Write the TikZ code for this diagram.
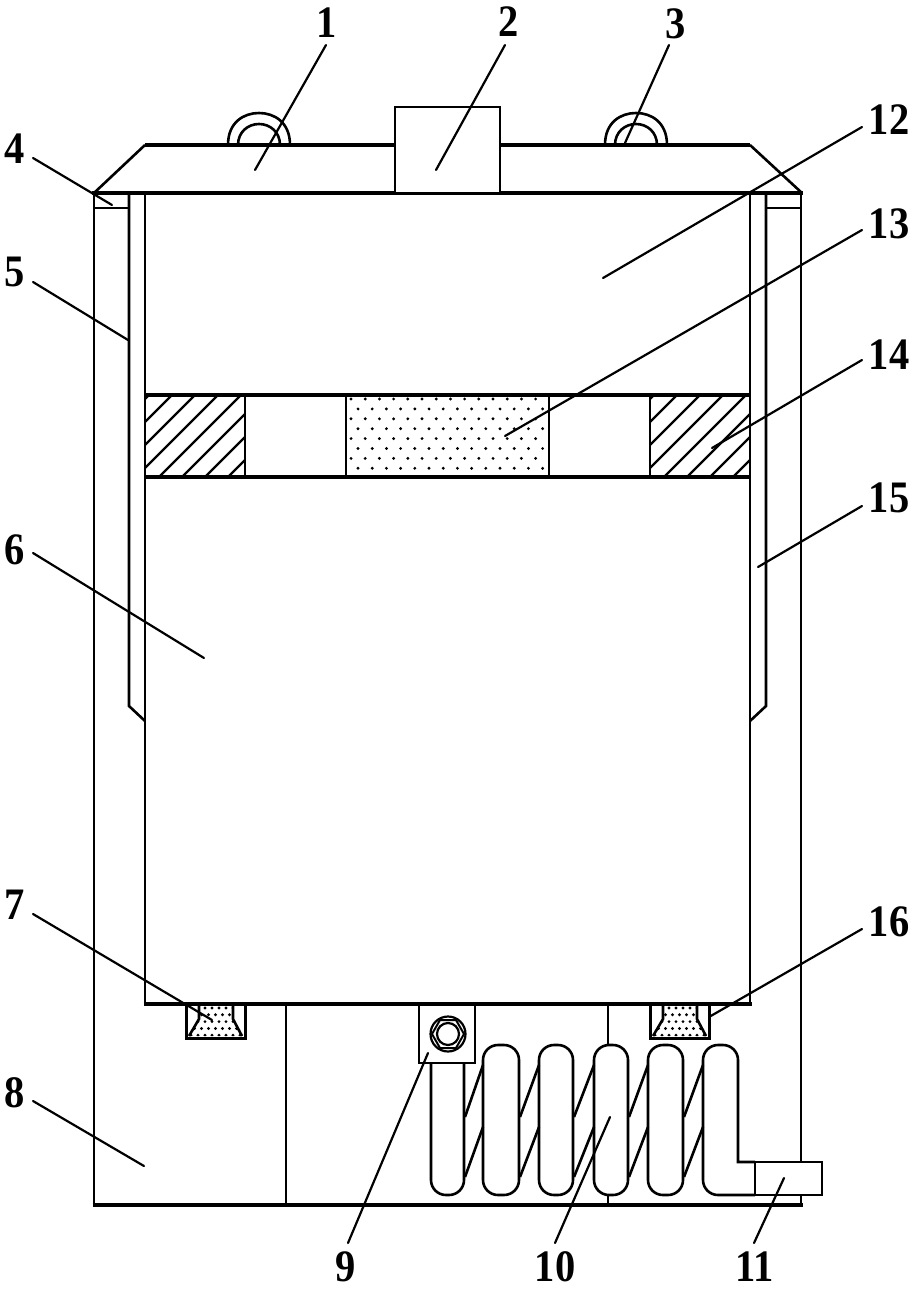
\documentclass[tikz,border=0pt]{standalone}
\usepackage{fontspec}
\newfontfamily\lblfont[FakeStretch=0.9]{Liberation Serif Bold}
\tikzset{
  wall/.style={line width=2.6pt,line cap=butt,line join=miter},
  heavy/.style={line width=3.4pt,line cap=butt},
  hatchline/.style={line width=2.4pt},
  lead/.style={line width=2.2pt,line cap=round},
  lbl/.style={inner sep=0pt,font=\lblfont\fontsize{45}{45}\selectfont},
  part/.style={draw,wall,fill=white,inner sep=0pt,outer sep=0pt,anchor=north west},
}
\newcommand{\capsule}[2]{\draw[wall,rounded corners=15pt] (#1,1045) rectangle (#2,1195);}
\begin{document}
\begin{tikzpicture}[x=1pt,y=-1pt]
\useasboundingbox (0,0) rectangle (918,1289);
% rings
\foreach \c/\ro/\ri in {259/31/21,636/31/21}{
  \draw[wall] (\c-\ro,145) .. controls (\c-\ro,122) and (\c-15,113) .. (\c,113) .. controls (\c+15,113) and (\c+\ro,122) .. (\c+\ro,145);
  \draw[wall] (\c-\ri,145) .. controls (\c-\ri,132) and (\c-11,124) .. (\c,124) .. controls (\c+11,124) and (\c+\ri,132) .. (\c+\ri,145);
}
% cap
\draw[wall] (94,193) -- (145,145);
\draw[wall] (750,145) -- (802,193);
\draw[heavy] (145,145) -- (395,145);
\draw[heavy] (500,145) -- (750,145);
\draw[heavy] (92,193) -- (803,193);
\node[part,minimum width=105pt,minimum height=86pt] (box2) at (395,107) {};
% housing
\draw[wall] (94,193) -- (94,1205);
\draw[wall] (801,193) -- (801,1205);
\draw[heavy] (92.5,1205) -- (802.5,1205);
\draw[wall] (94,208) -- (128,208);
\draw[wall] (766,208) -- (801,208);
% sleeves
\draw[wall] (129,193) -- (129,706) -- (145,721);
\draw[wall] (766,193) -- (766,706) -- (750,721);
% container
\draw[wall] (145,193) -- (145,1004);
\draw[wall] (750,193) -- (750,1004);
\draw[heavy] (143.5,1004) -- (751.5,1004);
% band hatch
\begin{scope}
  \clip (145,395) rectangle (245,477);
  \foreach \i in {0,...,9}{\draw[hatchline] (62+23*\i,482) -- (62+23*\i+90,392);}
\end{scope}
\begin{scope}
  \clip (650,395) rectangle (750,477);
  \foreach \i in {0,...,9}{\draw[hatchline] (567+23*\i,482) -- (567+23*\i+90,392);}
\end{scope}
\begin{scope}
  \clip (346,395) rectangle (549,477);
  \foreach \r in {0,...,8}{
    \pgfmathsetmacro{\yy}{399+9.9*\r}
    \pgfmathsetmacro{\off}{mod(\r,2)*7}
    \foreach \i in {0,...,14}{\fill (351+\off+14.2*\i,\yy) circle (1.6pt);}
  }
\end{scope}
\draw[heavy] (145,395) -- (750,395);
\draw[heavy] (145,477) -- (750,477);
\foreach \x in {245,346,549,650}{\draw[wall] (\x,395) -- (\x,477);}
% feet
\foreach \l in {186,650}{
  \begin{scope}
    \clip (\l+13,1004) -- (\l+13,1019) -- (\l+3,1036) -- (\l+56,1036) -- (\l+47,1019) -- (\l+47,1004) -- cycle;
    \foreach \r in {0,...,4}{
      \pgfmathsetmacro{\off}{mod(\r,2)*3.5}
      \foreach \i in {0,...,7}{\fill (\l+5+\off+7*\i,1008+6.8*\r) circle (1.6pt);}
    }
  \end{scope}
  \draw[wall] (\l+13,1004) -- (\l+13,1019) -- (\l+3,1036);
  \draw[wall] (\l+47,1004) -- (\l+47,1019) -- (\l+56,1036);
  \draw[line width=3pt] (\l,1004) -- (\l,1038) -- (\l+59,1038) -- (\l+59,1004);
}
% struts
\draw[wall] (286,1004) -- (286,1205);
\draw[wall] (608,1004) -- (608,1046);
\draw[wall] (608,1194) -- (608,1205);
% coil
\draw[wall,rounded corners=15pt] (431,1063) -- (431,1195) -- (464,1195) -- (464,1063);
\capsule{483}{519}
\capsule{539}{573}
\capsule{594}{628}
\capsule{648}{683}
\draw[wall] (755,1162) -- (738,1162) [rounded corners=15pt] -- (738,1045) -- (703,1045) -- (703,1195) [sharp corners] -- (755,1195);
\foreach \x/\w in {464/19,519/20,573/21,628/20,683/20}{
  \draw[wall] (\x+1,1117) -- (\x+\w,1065);
  \draw[wall] (\x+1,1177) -- (\x+\w,1127);
}
% block 9
\node[part,minimum width=56pt,minimum height=59pt] (block9) at (419,1004) {};
\draw[heavy] (417,1004) -- (477,1004);
\node[draw,line width=2.2pt,circle,minimum size=35pt,inner sep=0pt,outer sep=0pt] (bolt) at (448,1034) {};
\node[draw,line width=2.2pt,circle,minimum size=22pt,inner sep=0pt,outer sep=0pt] (boltin) at (448,1034) {};
\draw[line width=2pt] (456,1020) -- (440,1020) -- (432,1034) -- (440,1048) -- (456,1048) -- (464,1034) -- cycle;
% box 11
\node[part,minimum width=67pt,minimum height=33pt] (box11) at (755,1162) {};
% labels
\node[lbl] (n1) at (327,23) {1};
\node[lbl] (n2) at (509,22) {2};
\node[lbl] (n3) at (676,24) {3};
\node[lbl] (n4) at (15,149) {4};
\node[lbl] (n5) at (15,272) {5};
\node[lbl] (n6) at (15,550) {6};
\node[lbl] (n7) at (15,905) {7};
\node[lbl] (n8) at (15,1093) {8};
\node[lbl] (n9) at (346,1267) {9};
\node[lbl] (n10) at (555,1267) {10};
\node[lbl] (n11) at (755,1267) {11};
\node[lbl] (n12) at (889,120) {12};
\node[lbl] (n13) at (889,224) {13};
\node[lbl] (n14) at (889,355) {14};
\node[lbl] (n15) at (889,498) {15};
\node[lbl] (n16) at (889,922) {16};
% leader ends
\foreach \n/\ax/\ay/\bx/\by in {
  1/255/170/326/45, 2/436/170/505/45, 3/625/143/669/45,
  4/112/205/33/158, 5/128/340/33/282, 6/204/658/33/553,
  7/212/1020/33/914, 8/144/1166/33/1101,
  9/428/1053/348/1243, 10/610/1117/555/1243, 11/784/1178/754/1243,
  12/603/278/862/127, 13/505/436/862/230, 14/712/448/862/360,
  15/758/567/862/506, 16/709/1017/862/929}{
  \coordinate (t\n) at (\ax,\ay);
  \coordinate (e\n) at (\bx,\by);
  \draw[lead] (t\n) -- (e\n);
}
\end{tikzpicture}
\end{document}
